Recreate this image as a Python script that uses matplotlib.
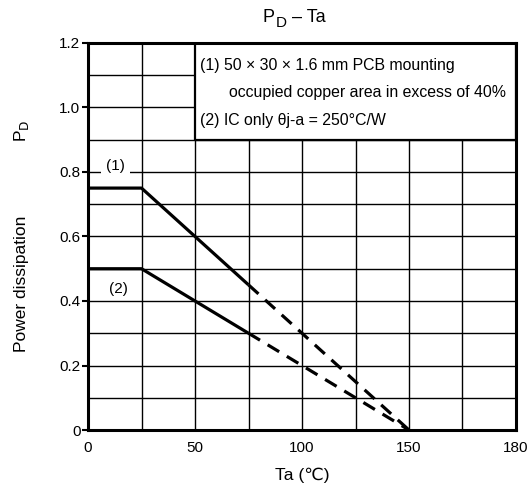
#!/usr/bin/env python3
"""PD - Ta derating curve."""

import matplotlib

matplotlib.use("Agg")
import matplotlib.pyplot as plt  # noqa: E402

plt.rcParams["font.family"] = ["Liberation Sans", "DejaVu Sans"]

# derating points (Ta degC, PD W): solid part then dashed extrapolation
TA_SOLID = [0, 25, 75]
PD1_SOLID = [0.75, 0.75, 0.45]
PD2_SOLID = [0.5, 0.5, 0.3]
TA_DASH = [75, 150]
PD1_DASH = [0.45, 0.0]
PD2_DASH = [0.3, 0.0]

X_TICKS = [0, 50, 100, 150, 200]
X_TICK_LABELS = ["0", "50", "100", "150", "180"]
Y_TICKS = [0, 0.2, 0.4, 0.6, 0.8, 1.0, 1.2]
Y_TICK_LABELS = ["0", "0.2", "0.4", "0.6", "0.8", "1.0", "1.2"]

fig = plt.figure(figsize=(5.29, 4.9), dpi=100)
ax = fig.add_axes([0.1664, 0.1224, 0.809, 0.79])

ax.set_xlim(0, 200)
ax.set_ylim(0, 1.2)
for gx in range(25, 200, 25):
    ax.axvline(gx, color="black", linewidth=1.0, zorder=1)
for i in range(1, 12):
    ax.axhline(i * 0.1, color="black", linewidth=1.0, zorder=1)

ax.plot(TA_SOLID, PD1_SOLID, color="black", linewidth=2.3, solid_capstyle="butt", zorder=3)
ax.plot(TA_SOLID, PD2_SOLID, color="black", linewidth=2.3, solid_capstyle="butt", zorder=3)
ax.plot(TA_DASH, PD1_DASH, color="black", linewidth=2.3, dashes=(4.2, 2.8), zorder=3)
ax.plot(TA_DASH, PD2_DASH, color="black", linewidth=2.3, dashes=(4.2, 2.8), zorder=3)

# legend box covering grid in upper right
ax.fill_between([50, 200], 0.9, 1.2, color="white", edgecolor="black", linewidth=1.6, zorder=2)
ax.text(52.3, 1.13, "(1) 50 \u00d7 30 \u00d7 1.6 mm PCB mounting", fontsize=11.4, va="center", zorder=4)
ax.text(65.9, 1.045, "occupied copper area in excess of 40%", fontsize=11.4, va="center", zorder=4)
ax.text(52.3, 0.96, "(2) IC only \u03b8j-a = 250\u00b0C/W", fontsize=11.4, va="center", zorder=4)

ax.text(12.8, 0.82, "(1)", fontsize=11, ha="center", va="center", zorder=4,
        bbox=dict(facecolor="white", edgecolor="none", pad=3.5))
ax.text(14, 0.437, "(2)", fontsize=11, ha="center", va="center", zorder=4)

ax.set_xticks(X_TICKS)
ax.set_xticklabels(X_TICK_LABELS, fontsize=11)
ax.set_yticks(Y_TICKS)
ax.set_yticklabels(Y_TICK_LABELS, fontsize=11)
ax.tick_params(axis="x", length=0, pad=8)
ax.tick_params(axis="y", direction="out", length=4, width=1.5, pad=1.5)
for spine in ax.spines.values():
    spine.set_linewidth(2.2)
    spine.set_zorder(5)

ax.set_xlabel("Ta (\u2103)", fontsize=12.5, labelpad=9)

# y label: two parts, rotated
fig.text(0.041, 1 - 284 / 490, "Power dissipation", rotation=90, fontsize=12.5,
         ha="center", va="center")
fig.text(0.041, 1 - 131 / 490, "P$_{\\mathrm{D}}$", rotation=90, fontsize=12.5,
         ha="center", va="center")

# title with a large subscript
t1 = fig.text(275 / 529, 1 - 17 / 490, "P", fontsize=13, ha="right", va="center")
ax.annotate("D", xy=(1, 0), xycoords=t1, xytext=(0.5, -3.5), textcoords="offset points",
            fontsize=11, ha="left", va="bottom", annotation_clip=False)
ax.annotate(" \u2013 Ta", xy=(1, 0), xycoords=t1, xytext=(8.5, 0), textcoords="offset points",
            fontsize=13, ha="left", va="bottom", annotation_clip=False)

fig.savefig("out.png", dpi=100)
